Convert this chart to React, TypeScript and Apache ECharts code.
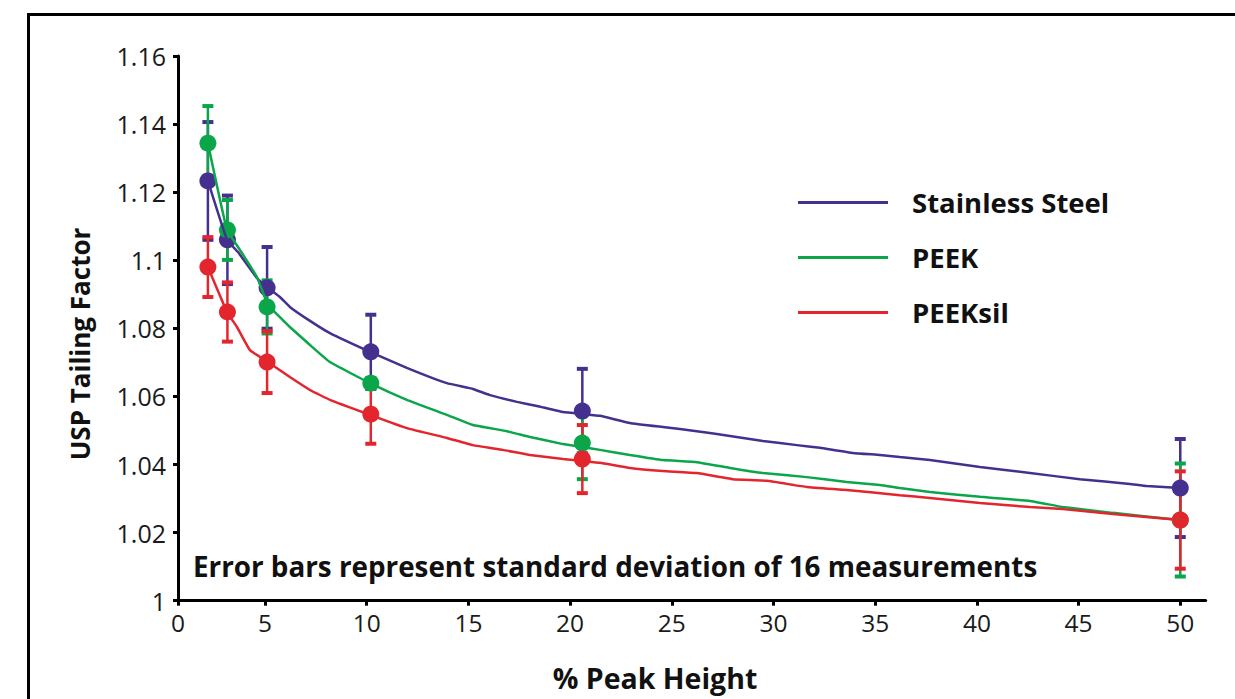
import React, { useEffect, useRef } from "react";
import * as echarts from "echarts";

// ---- data ----
const seriesNames = ["Stainless Steel", "PEEK", "PEEKsil"];
const seriesColors = ["#46308F", "#0BA64A", "#E3262E"];

// measurement positions (% peak height)
const measureX = [2.19, 3.15, 5.1, 10.2, 20.6, 50];

// mean tailing factor at each measurement
const ssMean = [1.1233, 1.106, 1.0919, 1.0731, 1.0557, 1.0331];
const peekMean = [1.1344, 1.1089, 1.0863, 1.0639, 1.0463, 1.0237];
const peeksilMean = [1.098, 1.0848, 1.0701, 1.0548, 1.0416, 1.0237];

// standard deviation (16 measurements)
const ssSD = [0.0173, 0.013, 0.012, 0.0109, 0.0124, 0.0144];
const peekSD = [0.0109, 0.0088, 0.0078, 0.0015, 0.0106, 0.0166];
const peeksilSD = [0.0088, 0.0087, 0.0091, 0.0087, 0.01, 0.0143];

// continuous tailing curves [x, y]
const ssCurve = [
  [2.19, 1.1233], [3.13, 1.106], [3.67, 1.1024], [4.6, 1.0948], [5.14, 1.0919],
  [5.73, 1.0892], [6.22, 1.0863], [7.21, 1.0822], [8.19, 1.0786], [10.16, 1.0731],
  [11.97, 1.0684], [13.94, 1.0639], [15.22, 1.0622], [16.06, 1.0604], [17.39, 1.0584],
  [18.37, 1.0572], [19.65, 1.0554], [20.63, 1.0548], [21.47, 1.0543], [22.94, 1.0522],
  [24.56, 1.051], [26.23, 1.0498], [27.86, 1.0484], [29.48, 1.0469], [31.15, 1.0457],
  [32.28, 1.0449], [33.9, 1.0434], [35.23, 1.0428], [36.21, 1.0422], [37.69, 1.0413],
  [40.15, 1.0393], [42.61, 1.0375], [45.06, 1.0357], [47.52, 1.0343], [48.35, 1.0337],
  [50, 1.0331],
];
const peekCurve = [
  [2.19, 1.1344], [3.13, 1.1089], [3.77, 1.103], [4.6, 1.0951],
  [5.14, 1.0869], [5.73, 1.0833], [6.22, 1.0804], [7.21, 1.0751], [8.19, 1.0701],
  [10.16, 1.0639], [11.97, 1.059], [13.94, 1.0546], [15.22, 1.0516], [16.89, 1.0498],
  [18.03, 1.0481], [19.65, 1.046], [20.63, 1.0451], [21.47, 1.0443], [22.94, 1.0428],
  [24.56, 1.0413], [26.23, 1.0407], [27.86, 1.039], [29.48, 1.0375], [31.64, 1.0363],
  [33.6, 1.0349], [35.23, 1.034], [36.21, 1.0331], [37.69, 1.0319], [40.15, 1.0305],
  [42.61, 1.0293], [44.23, 1.0275], [46.68, 1.0258], [50, 1.0237],
];
const peeksilCurve = [
  [2.19, 1.098], [3.13, 1.0848], [3.62, 1.0804], [4.26, 1.0736], [5.14, 1.0701],
  [6.22, 1.0657], [7.21, 1.0619], [8.19, 1.059], [10.16, 1.0546], [11.97, 1.0507],
  [13.94, 1.0478], [15.22, 1.0457], [16.69, 1.0443], [18.03, 1.0428], [19.65, 1.0416],
  [20.63, 1.041], [21.47, 1.0405], [22.94, 1.039], [24.56, 1.0381], [26.23, 1.0375],
  [28.0, 1.0357], [29.68, 1.0352], [31.64, 1.0334], [33.6, 1.0325], [36.21, 1.031],
  [37.69, 1.0302], [40.15, 1.0287], [42.61, 1.0275], [44.23, 1.0269], [46.68, 1.0255],
  [50, 1.0237],
];

// axis ticks
const xAxisOrigin = 0.72; // where the "0" tick sits on the drawn axis
const xAxisEnd = 51.25;
const xTickValues = [xAxisOrigin, 5, 10, 15, 20, 25, 30, 35, 40, 45, 50];
const yMin = 1;
const yMax = 1.16;
const yInterval = 0.02;

const FONT = "'Open Sans', 'Noto Sans', 'DejaVu Sans', sans-serif";

function errorData(mean: number[], sd: number[]) {
  return measureX.map((x, i) => [x, mean[i] - sd[i], mean[i] + sd[i]]);
}
function pointData(mean: number[]) {
  return measureX.map((x, i) => [x, mean[i]]);
}

const errorRender = (params: any, api: any) => {
  const x = api.value(0);
  const lo = api.value(1);
  const hi = api.value(2);
  const top = api.coord([x, hi]);
  const bot = api.coord([x, lo]);
  const color = api.visual("color");
  return {
    type: "group",
    children: [
      {
        type: "line",
        shape: { x1: top[0], y1: top[1], x2: bot[0], y2: bot[1] },
        style: { stroke: color, lineWidth: 2.5 },
      },
      {
        type: "rect",
        shape: { x: top[0] - 5.5, y: top[1] - 2, width: 11, height: 4 },
        style: { fill: color },
      },
      {
        type: "rect",
        shape: { x: bot[0] - 5.5, y: bot[1] - 2, width: 11, height: 4 },
        style: { fill: color },
      },
    ],
  };
};

export default function App() {
  const ref = useRef<HTMLDivElement>(null);

  useEffect(() => {
    if (!ref.current) return;
    const chart = echarts.init(ref.current, undefined, { renderer: "svg" });

    const curves = [ssCurve, peekCurve, peeksilCurve];
    const means = [ssMean, peekMean, peeksilMean];
    const sds = [ssSD, peekSD, peeksilSD];

    const series: any[] = [];
    seriesNames.forEach((name, i) => {
      const color = seriesColors[i];
      series.push({
        name,
        type: "line",
        data: curves[i],
        showSymbol: false,
        smooth: 0.1,
        lineStyle: { color, width: 2.5 },
        itemStyle: { color },
      });
      series.push({
        name: name + " SD",
        type: "custom",
        renderItem: errorRender,
        data: errorData(means[i], sds[i]),
        encode: { x: 0, y: [1, 2] },
        itemStyle: { color },
      });
      series.push({
        name: name + " mean",
        type: "scatter",
        data: pointData(means[i]),
        symbol: "circle",
        symbolSize: 17,
        itemStyle: { color, opacity: 1 },
      });
    });

    chart.setOption({
      animation: false,
      backgroundColor: "#ffffff",
      textStyle: { fontFamily: FONT },
      grid: { left: 178, top: 56, right: 29.3, bottom: 98.3, containLabel: false },
      legend: {
        data: seriesNames,
        orient: "vertical",
        left: 798,
        top: 175,
        padding: 0,
        itemGap: 0,
        itemWidth: 90,
        itemHeight: 3,
        icon: "rect",
        selectedMode: false,
        textStyle: {
          fontFamily: FONT,
          fontSize: 27.5,
          fontWeight: "bold",
          color: "#111",
          lineHeight: 55,
          padding: [0, 0, 0, 19],
        },
      },
      xAxis: {
        type: "value",
        min: xAxisOrigin,
        max: xAxisEnd,
        splitLine: { show: false },
        axisLine: { show: true, onZero: false, lineStyle: { color: "#000", width: 3 } },
        axisTick: {
          show: true,
          length: 5,
          lineStyle: { color: "#000", width: 3 },
          customValues: xTickValues,
        },
        axisLabel: {
          customValues: xTickValues,
          formatter: (v: number) => (v < 1 ? "0" : String(v)),
          fontFamily: FONT,
          fontSize: 24.5,
          color: "#1a1a1a",
          margin: 9,
        },
      },
      yAxis: {
        type: "value",
        min: yMin,
        max: yMax,
        interval: yInterval,
        splitLine: { show: false },
        axisLine: { show: true, onZero: false, lineStyle: { color: "#000", width: 3 } },
        axisTick: { show: true, length: 5, lineStyle: { color: "#000", width: 3 } },
        axisLabel: {
          fontFamily: FONT,
          fontSize: 25,
          color: "#1a1a1a",
          margin: 12,
        },
      },
      graphic: [
        {
          type: "rect",
          shape: { x: 28.5, y: 14.5, width: 1300, height: 800 },
          style: { fill: "none", stroke: "#000", lineWidth: 3 },
          silent: true,
          z: 100,
        },
        {
          type: "text",
          x: 80,
          y: 344,
          rotation: Math.PI / 2,
          style: {
            text: "USP Tailing Factor",
            fontFamily: FONT,
            fontSize: 26,
            fontWeight: "bold",
            fill: "#111",
            align: "center",
            verticalAlign: "middle",
          },
        },
        {
          type: "text",
          x: 655,
          y: 678,
          style: {
            text: "% Peak Height",
            fontFamily: FONT,
            fontSize: 28.5,
            fontWeight: "bold",
            fill: "#111",
            align: "center",
            verticalAlign: "middle",
          },
        },
        {
          type: "text",
          x: 193,
          y: 566,
          style: {
            text: "Error bars represent standard deviation of 16 measurements",
            fontFamily: FONT,
            fontSize: 27.8,
            fontWeight: "bold",
            fill: "#111",
            align: "left",
            verticalAlign: "middle",
          },
        },
      ],
      series,
    });

    return () => chart.dispose();
  }, []);

  return (
    <div
      ref={ref}
      style={{ position: "absolute", left: 0, top: 0, width: 1235, height: 699 }}
    />
  );
}
